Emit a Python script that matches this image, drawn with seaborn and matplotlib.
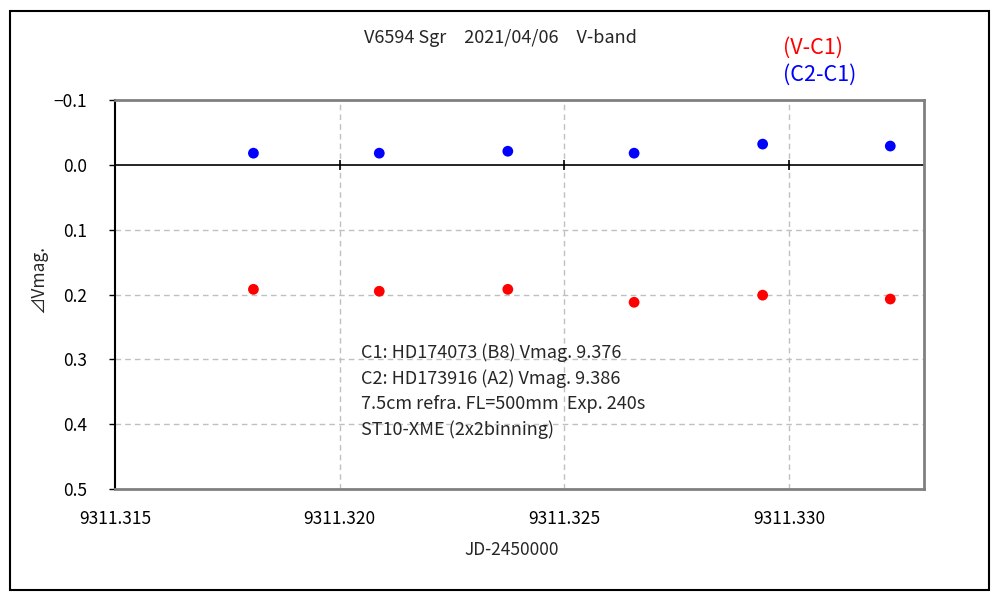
import seaborn as sns
import pandas as pd
import matplotlib.pyplot as plt
from matplotlib.patches import Rectangle

# Data
jd = [9311.31808, 9311.32088, 9311.32374, 9311.32655, 9311.32941, 9311.33225]
v_c1 = [0.192, 0.195, 0.192, 0.212, 0.201, 0.207]
c2_c1 = [-0.018, -0.018, -0.021, -0.018, -0.032, -0.029]
series_names = ['(V-C1)', '(C2-C1)']
series_colors = ['red', 'blue']
x_ticks = [9311.315, 9311.320, 9311.325, 9311.330]
y_ticks = [-0.1, 0.0, 0.1, 0.2, 0.3, 0.4, 0.5]
info_lines = ['C1: HD174073 (B8) Vmag. 9.376',
              'C2: HD173916 (A2) Vmag. 9.386',
              '7.5cm refra. FL=500mm  Exp. 240s',
              'ST10-XME (2x2binning)']

df = pd.DataFrame({
    'jd': jd + jd,
    'dmag': v_c1 + c2_c1,
    'series': [series_names[0]] * len(jd) + [series_names[1]] * len(jd),
})

sns.set_style('white')
plt.rcParams['font.family'] = ['Noto Sans CJK JP', 'DejaVu Sans']

fig = plt.figure(figsize=(10, 6), dpi=100)
ax = fig.add_axes([0.115, 0.185, 0.809, 0.6483])

sns.scatterplot(data=df, x='jd', y='dmag', hue='series',
                palette=dict(zip(series_names, series_colors)),
                s=60, edgecolor='none', legend=False, ax=ax, zorder=3)

ax.set_xlim(9311.315, 9311.333)
ax.set_ylim(0.5, -0.1)
ax.set_xticks(x_ticks)
ax.set_xticklabels([f'{t:.3f}' for t in x_ticks])
ax.set_yticks(y_ticks)
ax.set_yticklabels([f'{t:.1f}'.replace('-', '\u2212') for t in y_ticks])

# grid lines (skip the ones on the border)
for t in x_ticks[1:]:
    ax.axvline(t, color='#c0c0c0', ls=(0, (4, 3)), lw=1, zorder=1)
for t in y_ticks[2:-1]:
    ax.axhline(t, color='#c0c0c0', ls=(0, (4, 3)), lw=1, zorder=1)
ax.axhline(0.0, color='black', lw=1.2, zorder=2)
ax.vlines(x_ticks[1:], -0.008, 0.008, color='black', lw=1.2, zorder=2)

for side in ['top', 'right', 'bottom']:
    ax.spines[side].set_color('#808080')
    ax.spines[side].set_linewidth(2)
ax.spines['left'].set_color('black')
ax.spines['left'].set_linewidth(1.5)

ax.tick_params(axis='x', length=0, pad=15, labelsize=12.5, colors='black')
ax.tick_params(axis='y', direction='out', length=4, width=1, pad=16,
               labelsize=12.5, left=True, colors='black')

ax.set_xlabel('JD-2450000', fontsize=12.5)
ax.set_ylabel('\u22bfVmag.', fontsize=12.5)
ax.xaxis.set_label_coords(0.49, -0.134)
ax.yaxis.set_label_coords(-0.083, 0.54)

fig.text(0.5, 1 - 38 / 600, 'V6594 Sgr\u30002021/04/06\u3000V-band',
         ha='center', va='center', fontsize=13)
fig.text(0.783, 1 - 48 / 600, series_names[0], color=series_colors[0],
         ha='left', va='center', fontsize=15.5)
fig.text(0.783, 1 - 75 / 600, series_names[1], color=series_colors[1],
         ha='left', va='center', fontsize=15.5)

for i, line in enumerate(info_lines):
    fig.text(0.361, 1 - (353 + i * 25.7) / 600, line,
             ha='left', va='center', fontsize=13)

fig.patches.append(Rectangle((0.0095, 0.0167), 0.979, 0.965,
                             transform=fig.transFigure, fill=False,
                             edgecolor='black', lw=1.5))

fig.savefig('out.png', dpi=100)
